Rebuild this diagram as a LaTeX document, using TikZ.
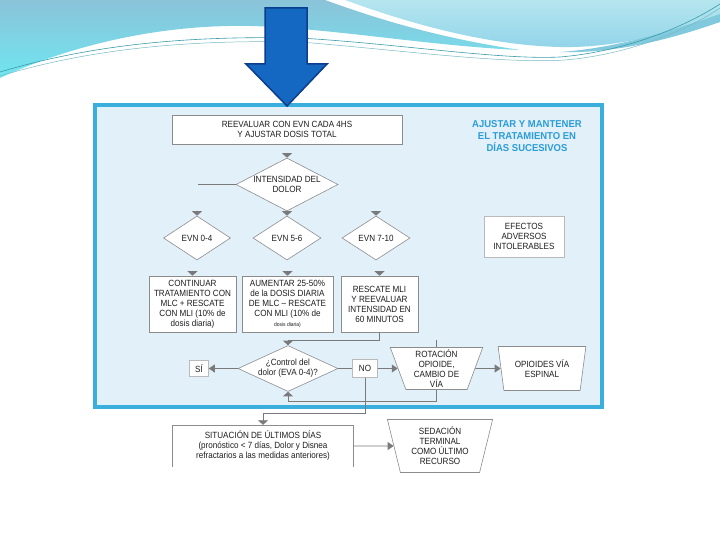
\documentclass[tikz,border=0pt]{standalone}
\usepackage{fontspec}
\setmainfont[FakeStretch=0.9]{Liberation Sans}
\newfontfamily\titfont[FakeStretch=0.95]{Liberation Sans}
\usetikzlibrary{shapes.geometric,arrows.meta}
\definecolor{lineg}{HTML}{7A7A7A}
\definecolor{boxg}{HTML}{8C8C8C}
\definecolor{outfill}{HTML}{E2F0FA}
\definecolor{outline}{HTML}{3AAFDD}
\definecolor{titc}{HTML}{2A9CD8}
\definecolor{arrfill}{HTML}{1468C2}
\definecolor{arrline}{HTML}{0B3D8C}
\definecolor{txtc}{HTML}{1E1E1E}
\definecolor{waveA}{HTML}{8BC3D9}
\definecolor{waveB}{HTML}{6FE6F0}
\definecolor{waveC}{HTML}{B5E6EE}
\definecolor{waveD}{HTML}{92D4EA}
\definecolor{teal}{HTML}{3A9CAA}
\begin{document}
\begin{tikzpicture}[x=1pt,y=-1pt,
  txt/.style={font=\fontsize{9}{10}\selectfont, text=txtc, align=center},
  box/.style={txt, draw=boxg, fill=white, line width=0.6pt, inner sep=0pt},
  dia/.style={txt, diamond, aspect=2, draw=boxg, fill=white, line width=0.6pt, inner sep=-3pt},
  trap/.style={txt, trapezium, shape border rotate=180, trapezium stretches=true,
               draw=boxg, fill=white, line width=0.6pt, inner sep=0pt},
  lbl/.style={box, draw=boxg!60},
  conn/.style={draw=lineg, line width=0.8pt},
  arr/.style={conn, -{Triangle[width=8pt,length=6pt]}},
  tipline/.style={conn, -{Triangle[width=10pt,length=4.5pt]}},
]
\useasboundingbox (0,0) rectangle (720,540);
\fill[white] (0,0) rectangle (720,540);

% decorative waves
\shade[top color=waveA, bottom color=waveB]
  (0,0) -- (325,0) .. controls (380,20) and (440,38) .. (520,50)
  .. controls (430,46) and (330,28) .. (250,26)
  .. controls (150,24) and (60,50) .. (0,78) -- cycle;
\shade[top color=waveC, bottom color=waveD]
  (345,0) -- (720,0) -- (720,18) .. controls (650,40) and (600,48) .. (560,47)
  .. controls (480,45) and (400,20) .. (345,0) -- cycle;
\fill[waveD!80!teal]
  (560,52) .. controls (620,48) and (680,28) .. (720,14) -- (720,22)
  .. controls (680,36) and (620,54) .. (560,52) -- cycle;
\draw[teal, line width=0.6pt]
  (0,72) .. controls (100,42) and (200,36) .. (300,38)
  .. controls (400,44) and (500,60) .. (560,57)
  .. controls (620,52) and (680,30) .. (720,4);
\draw[teal!70, line width=0.5pt]
  (0,76) .. controls (100,46) and (200,40) .. (300,42)
  .. controls (400,50) and (500,64) .. (565,60)
  .. controls (625,55) and (685,32) .. (720,8);

% outer panel
\draw[outline, fill=outfill, line width=3.5pt] (95,105) rectangle (602,407);

% big arrow
\draw[arrline, fill=arrfill, line width=1.5pt, line join=miter]
  (265,8) -- (307,8) -- (307,64) -- (327,64) -- (287,106) -- (246,64) -- (265,64) -- cycle;

% nodes
\node[box, minimum width=230pt, minimum height=29pt] (reev) at (287,129.5)
  {REEVALUAR CON EVN CADA 4HS\\Y AJUSTAR DOSIS TOTAL};
\node[font=\titfont\bfseries\fontsize{10}{12}\selectfont, text=titc, align=center] (tit) at (527,136)
  {AJUSTAR Y MANTENER\\EL TRATAMIENTO EN\\DÍAS SUCESIVOS};
\node[dia, minimum width=102pt, minimum height=53pt] (int) at (287,184.5)
  {INTENSIDAD DEL\\DOLOR};
\node[dia, minimum width=67pt, minimum height=44pt] (e1) at (197,238) {EVN 0-4};
\node[dia, minimum width=68pt, minimum height=44pt] (e2) at (287,238) {EVN 5-6};
\node[dia, minimum width=68pt, minimum height=44pt] (e3) at (376,238) {EVN 7-10};
\node[box, draw=boxg!60, minimum width=80pt, minimum height=41pt] (efe) at (524,236.5)
  {EFECTOS\\ADVERSOS\\INTOLERABLES};
\node[box, minimum width=87pt, minimum height=56pt] (b1) at (192.5,304)
  {CONTINUAR\\TRATAMIENTO CON\\MLC + RESCATE\\CON MLI (10\% de\\dosis diaria)};
\node[box, minimum width=91pt, minimum height=56pt] (b2) at (287.5,304)
  {AUMENTAR 25-50\%\\de la DOSIS DIARIA\\DE MLC – RESCATE\\CON MLI (10\% de\\{\fontsize{5.5}{7}\selectfont dosis diaria)}};
\node[box, minimum width=77pt, minimum height=56pt] (b3) at (379.5,304)
  {RESCATE MLI\\Y REEVALUAR\\INTENSIDAD EN\\60 MINUTOS};
\node[dia, minimum width=100pt, minimum height=46pt] (ctrl) at (288,368.5)
  {¿Control del\\dolor (EVA 0-4)?};
\node[lbl, minimum width=19pt, minimum height=16pt] (si) at (199,368.5) {SÍ};
\node[lbl, minimum width=25pt, minimum height=18pt] (no) at (365,368.5) {NO};
\node[trap, trapezium angle=73, minimum width=93pt, minimum height=42pt] (rot) at (436.5,368.5)
  {ROTACIÓN\\OPIOIDE,\\CAMBIO DE\\VÍA};
\node[trap, trapezium angle=77, minimum width=88pt, minimum height=44pt] (opi) at (542,368.5)
  {OPIOIDES VÍA\\ESPINAL};
\node[txt, fill=white, minimum width=181pt, minimum height=42pt, inner sep=0pt] (sit) at (263,446)
  {SITUACIÓN DE ÚLTIMOS DÍAS\\(pronóstico < 7 días, Dolor y Disnea\\refractarios a las medidas anteriores)};
\draw[boxg, line width=0.6pt] (sit.south west) -- (sit.north west) -- (sit.north east) -- (sit.south east);
\node[trap, trapezium angle=76, minimum width=106pt, minimum height=53pt] (sed) at (440,446)
  {SEDACIÓN\\TERMINAL\\COMO ÚLTIMO\\RECURSO};

% free ends
\coordinate (lft) at (198,184.5);
\coordinate (stub) at (436.5,340);

% connectors
\draw[conn] (lft) -- (int.west);
\foreach \n in {int,e1,e2,e3,b1,b2,b3}
  \draw[tipline] ([yshift=5pt]\n.north) -- (\n.north);
\draw[tipline] (b3.south) -- ++(0,8) -| (ctrl.north);
\draw[arr] (ctrl.west) -- (si.east);
\draw[conn] (ctrl.east) -- (no.west);
\draw[arr] (no.east) -- (rot.west);
\draw[arr] (rot.east) -- (opi.west);
\draw[conn] (stub) -- (rot.north);
\draw[tipline] (rot.south) -- ++(0,12) -| (ctrl.south);
\draw[tipline] (no.south) -- ++(0,36) -| (sit.north);
\draw[arr] (sit.east) -- (sed.west);
\end{tikzpicture}
\end{document}
